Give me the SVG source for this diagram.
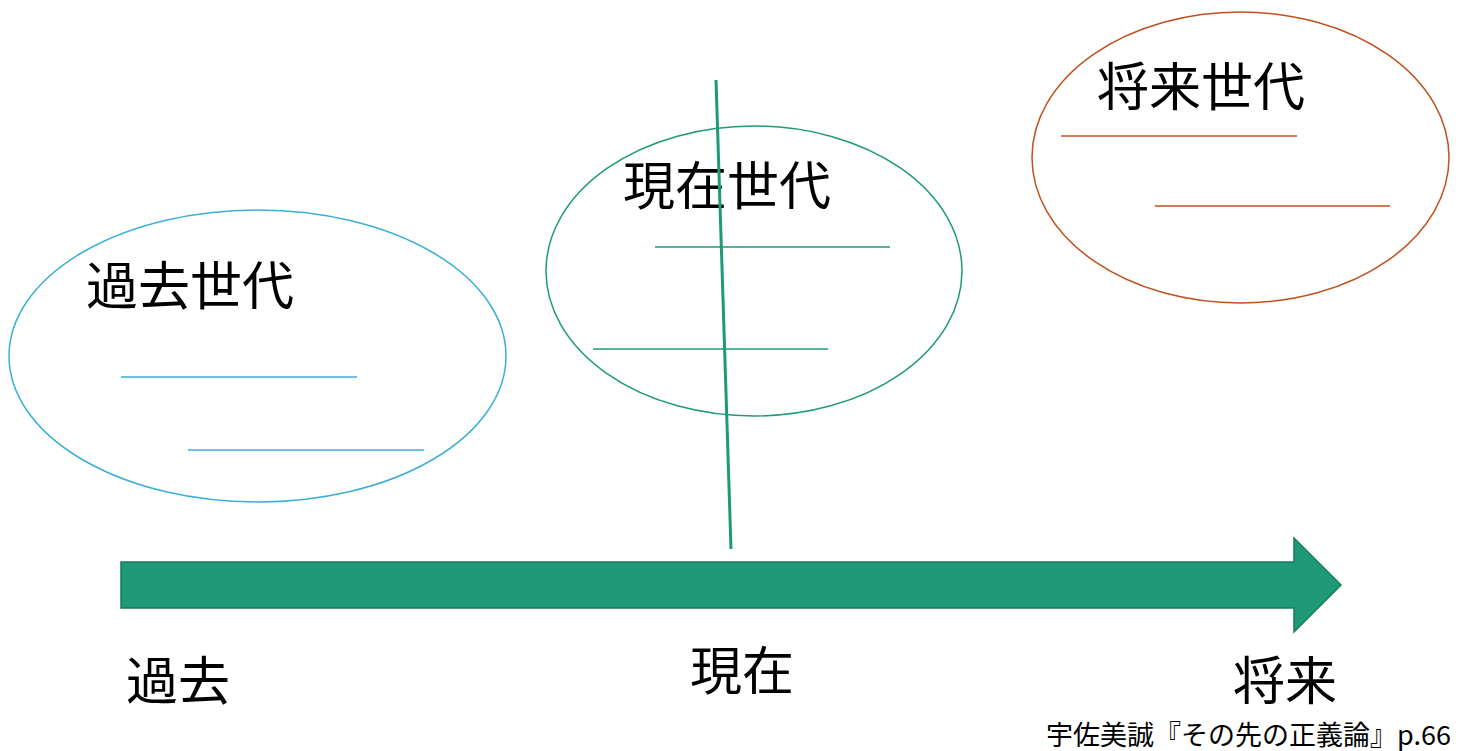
<svg xmlns="http://www.w3.org/2000/svg" width="1470" height="751" viewBox="0 0 1470 751">
<style>
text{font-family:"Noto Sans CJK JP","Noto Sans",sans-serif;fill:#000}
.big{font-size:52px}
.cite{font-size:27px}
.e{fill:none;stroke-width:1.5}
.past{stroke:#3bafd6}
.now{stroke:#1e9a78}
.fut{stroke:#c0501e}
</style>
<rect width="1470" height="751" fill="#fff"/>
<g id="past-gen">
<ellipse class="e past" cx="257.5" cy="356" rx="248.5" ry="146"/>
<line class="e past" x1="121" y1="377" x2="357" y2="377"/>
<line class="e past" x1="188" y1="450" x2="424" y2="450"/>
<text class="big" x="86" y="305">過去世代</text>
</g>
<g id="present-gen">
<ellipse class="e now" cx="754" cy="271" rx="208" ry="145"/>
<line class="e now" x1="655" y1="247" x2="890" y2="247"/>
<line class="e now" x1="593" y1="349" x2="828" y2="349"/>
<text class="big" x="623" y="205">現在世代</text>
</g>
<g id="future-gen">
<ellipse class="e fut" cx="1240.5" cy="157.5" rx="208.5" ry="145.5"/>
<line class="e fut" x1="1061" y1="136" x2="1297" y2="136"/>
<line class="e fut" x1="1155" y1="206" x2="1390" y2="206"/>
<text class="big" x="1097" y="106">将来世代</text>
</g>
<g id="connectors">
<line x1="716" y1="80" x2="731" y2="549" stroke="#1e9a78" stroke-width="3"/>
<polygon points="121,562 1294,562 1294,538 1341,585 1294,632 1294,608 121,608" fill="#1f9a78" stroke="#1a7a5e" stroke-width="1.5"/>
</g>
<g id="labels">
<text class="big" x="126" y="700">過去</text>
<text class="big" x="690" y="690">現在</text>
<text class="big" x="1233" y="700">将来</text>
<text class="cite" x="1046" y="745">宇佐美誠『その先の正義論』p.66</text>
</g>
</svg>
